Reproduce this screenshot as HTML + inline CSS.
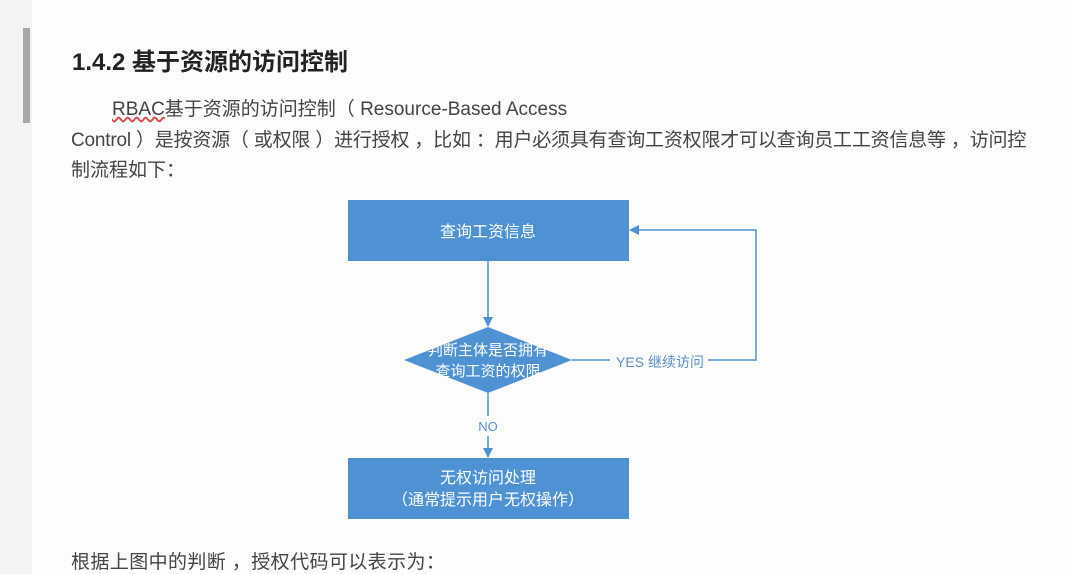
<!DOCTYPE html>
<html><head><meta charset="utf-8"><style>
body{margin:0;width:1069px;height:574px;background:#fdfdfd;position:relative;overflow:hidden;font-family:"Liberation Sans","Noto Sans CJK SC",sans-serif;color:#444}
.side{position:absolute;left:0;top:0;width:32px;height:574px;background:#f3f3f3}
.bar{position:absolute;left:23px;top:28px;width:7px;height:95px;background:#a8a8a8}
.t{position:absolute;white-space:nowrap}
</style></head><body>
<div class="side"></div><div class="bar"></div>
<div class="t" style="left:72px;top:42px;font-size:24px;font-weight:bold;color:#222">1.4.2 基于资源的访问控制</div>
<div class="t" style="left:112px;top:94px;font-size:19px"><span style="text-decoration:underline wavy #d44">RBAC</span>基于资源的访问控制（ Resource-Based Access</div>
<div class="t" style="left:71px;top:125px;font-size:19px;letter-spacing:-0.2px">Control ）是按资源（ 或权限 ）进行授权 ，比如 ：用户必须具有查询工资权限才可以查询员工工资信息等 ，访问控</div>
<div class="t" style="left:71px;top:155px;font-size:19px">制流程如下：</div>
<div class="t" style="left:71px;top:547px;font-size:19px;letter-spacing:0.4px">根据上图中的判断 ，授权代码可以表示为：</div>
<svg style="position:absolute;left:0;top:0" width="1069" height="574">
<defs><marker id="a" markerWidth="10" markerHeight="10" refX="9" refY="5" orient="auto" markerUnits="userSpaceOnUse"><path d="M0,0L10,5L0,10z" fill="#4e92d4"/></marker></defs>
<rect x="348" y="200" width="281" height="61" fill="#4e92d4"/>
<rect x="348" y="458" width="281" height="61" fill="#4e92d4"/>
<polygon points="488,327 572,360 488,393 404,360" fill="#4e92d4"/>
<g stroke="#4e92d4" stroke-width="1.5" fill="none">
<line x1="488" y1="261" x2="488" y2="326" marker-end="url(#a)"/>
<line x1="488" y1="393" x2="488" y2="416"/>
<line x1="488" y1="436" x2="488" y2="457" marker-end="url(#a)"/>
<polyline points="572,360 610,360"/>
<polyline points="708,360 756,360 756,230 630,230" marker-end="url(#a)"/>
</g>
<g font-family="Liberation Sans,Noto Sans CJK SC,sans-serif" fill="#fff" font-size="16" text-anchor="middle">
<text x="488" y="237">查询工资信息</text>
<text x="488" y="355" font-size="15">判断主体是否拥有</text>
<text x="488" y="376" font-size="15">查询工资的权限</text>
<text x="488" y="483">无权访问处理</text>
<text x="488" y="505">（通常提示用户无权操作）</text>
<text x="660" y="367" fill="#5a8fc8" font-size="14">YES 继续访问</text>
<text x="488" y="431" fill="#5a8fc8" font-size="13">NO</text>
</g>
</svg>
</body></html>
